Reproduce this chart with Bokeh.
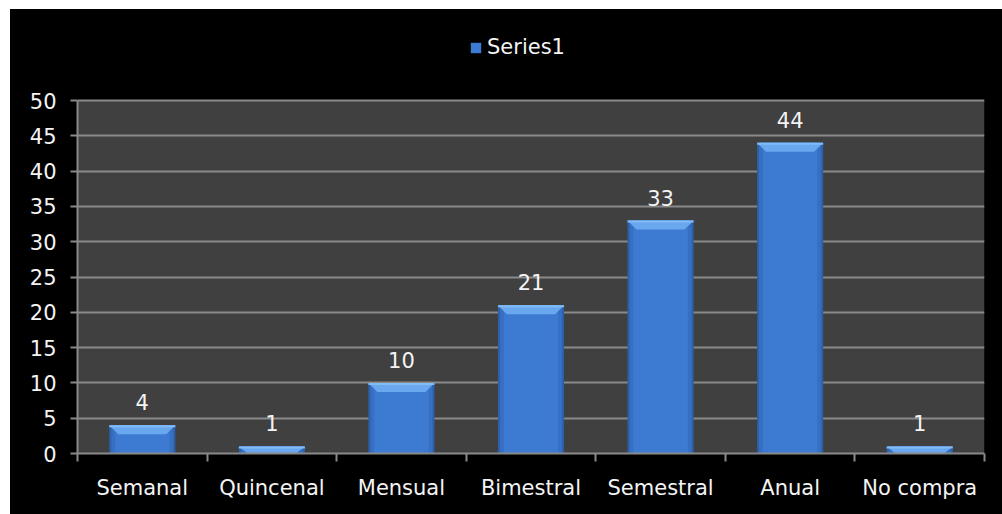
from bokeh.plotting import figure
from bokeh.models import (Range1d, FixedTicker, Legend, LegendItem, ColumnDataSource,
                          BoxAnnotation)
from bokeh.core.properties import value
from bokeh.embed import file_html
from bokeh.resources import INLINE

# Purchase frequency counts
categories = ["Semanal", "Quincenal", "Mensual", "Bimestral", "Semestral", "Anual", "No compra"]
counts = [4, 1, 10, 21, 33, 44, 1]
series_name = "Series1"
y_ticks = [0, 5, 10, 15, 20, 25, 30, 35, 40, 45, 50]

FONT = "DejaVu Sans"
FSIZE = "21px"
TEXT = "#f4f4f4"
GRID = "#8a8a8a"

W, H = 992, 505
LEFT, RIGHT, TOP, BOTTOM = 67, 18, 16, 61
PLOT_H = 353                      # height in px of the grey plot area (0..50)
frame_w = W - LEFT - RIGHT
frame_h = H - TOP - BOTTOM
y_max = y_ticks[-1]
y_end = y_max * frame_h / PLOT_H  # headroom above the plot area holds the legend

n = len(categories)
centers = [i + 0.5 for i in range(n)]
bar_w = 0.51

p = figure(width=W, height=H, output_backend="svg", toolbar_location=None,
           x_range=Range1d(0, n), y_range=Range1d(0, y_end),
           min_border_left=LEFT, min_border_right=RIGHT,
           min_border_top=TOP, min_border_bottom=BOTTOM)
p.margin = (9, 0, 0, 10)
p.styles = {"background-color": "#000000"}
p.background_fill_color = "#000000"
p.border_fill_color = "#000000"
p.outline_line_color = None

# grey plot area
p.add_layout(BoxAnnotation(left=0, right=n, bottom=0, top=y_max,
                           fill_color="#404040", fill_alpha=1.0,
                           line_color=None, level="image"))

# bar body, shaded in layers from the darker edge to the lighter middle
src = ColumnDataSource(dict(x=centers, top=counts))
p.vbar(x="x", top="top", width=bar_w, bottom=0, source=src,
       fill_color="#2c60aa", line_color=None)
p.vbar(x="x", top="top", width=bar_w - 0.03, bottom=0, source=src,
       fill_color="#376fc2", line_color=None)
bars = p.vbar(x="x", top="top", width=bar_w - 0.09, bottom=0, source=src,
              fill_color="#3d7bd2", line_color=None)

# bevelled top face of each bar
px_y = y_max / PLOT_H
px_x = n / frame_w
bev_h = 9 * px_y
bev_dx = 9 * px_x
xs, ys = [], []
for c, v in zip(centers, counts):
    h = min(bev_h, v)
    l, r = c - bar_w / 2, c + bar_w / 2
    xs.append([l, r, r - bev_dx, l + bev_dx])
    ys.append([v, v, v - h, v - h])
p.patches(xs, ys, fill_color="#69a7ee", line_color=None)
p.patches([[x[0], x[1], x[1], x[0]] for x in xs],
          [[y[0], y[0], y[0] - 2 * px_y, y[0] - 2 * px_y] for y in ys],
          fill_color="#82bbf6", line_color=None)

# value labels above the bars
p.text(x=centers, y=counts, text=[str(v) for v in counts],
       text_align="center", text_baseline="bottom", y_offset=-15,
       text_color=TEXT, text_font=value(FONT), text_font_size=FSIZE)

# axes
xa = p.xaxis[0]
xa.ticker = FixedTicker(ticks=centers, minor_ticks=list(range(n + 1)))
xa.major_label_overrides = {c: lab for c, lab in zip(centers, categories)}
xa.major_tick_line_color = None
xa.major_tick_out = 0
xa.major_tick_in = 0
xa.minor_tick_line_color = GRID
xa.minor_tick_line_width = 2
xa.minor_tick_out = 8
xa.minor_tick_in = 0
xa.axis_line_color = GRID
xa.axis_line_width = 2
xa.major_label_standoff = 14
xa.major_label_text_color = TEXT
xa.major_label_text_font = FONT
xa.major_label_text_font_size = FSIZE

ya = p.yaxis[0]
ya.ticker = FixedTicker(ticks=y_ticks)
ya.bounds = (0, y_max)
ya.minor_tick_line_color = None
ya.major_tick_line_color = GRID
ya.major_tick_line_width = 2
ya.major_tick_out = 7
ya.major_tick_in = 0
ya.axis_line_color = GRID
ya.axis_line_width = 2
ya.major_label_standoff = 14
ya.major_label_text_color = TEXT
ya.major_label_text_font = FONT
ya.major_label_text_font_size = FSIZE

p.xgrid.grid_line_color = None
p.ygrid.grid_line_color = GRID
p.ygrid.grid_line_width = 2
p.ygrid.ticker = FixedTicker(ticks=y_ticks)

# legend centred in the headroom above the plot area
legend = Legend(items=[LegendItem(label=series_name, renderers=[bars])],
                location=(392, PLOT_H + 41), orientation="horizontal",
                background_fill_alpha=0, border_line_color=None,
                padding=0, margin=0, glyph_width=13, glyph_height=13,
                label_standoff=5, label_text_color=TEXT,
                label_text_font=FONT, label_text_font_size=FSIZE)
p.add_layout(legend, "center")

open("out.html", "w").write(file_html(p, INLINE))
